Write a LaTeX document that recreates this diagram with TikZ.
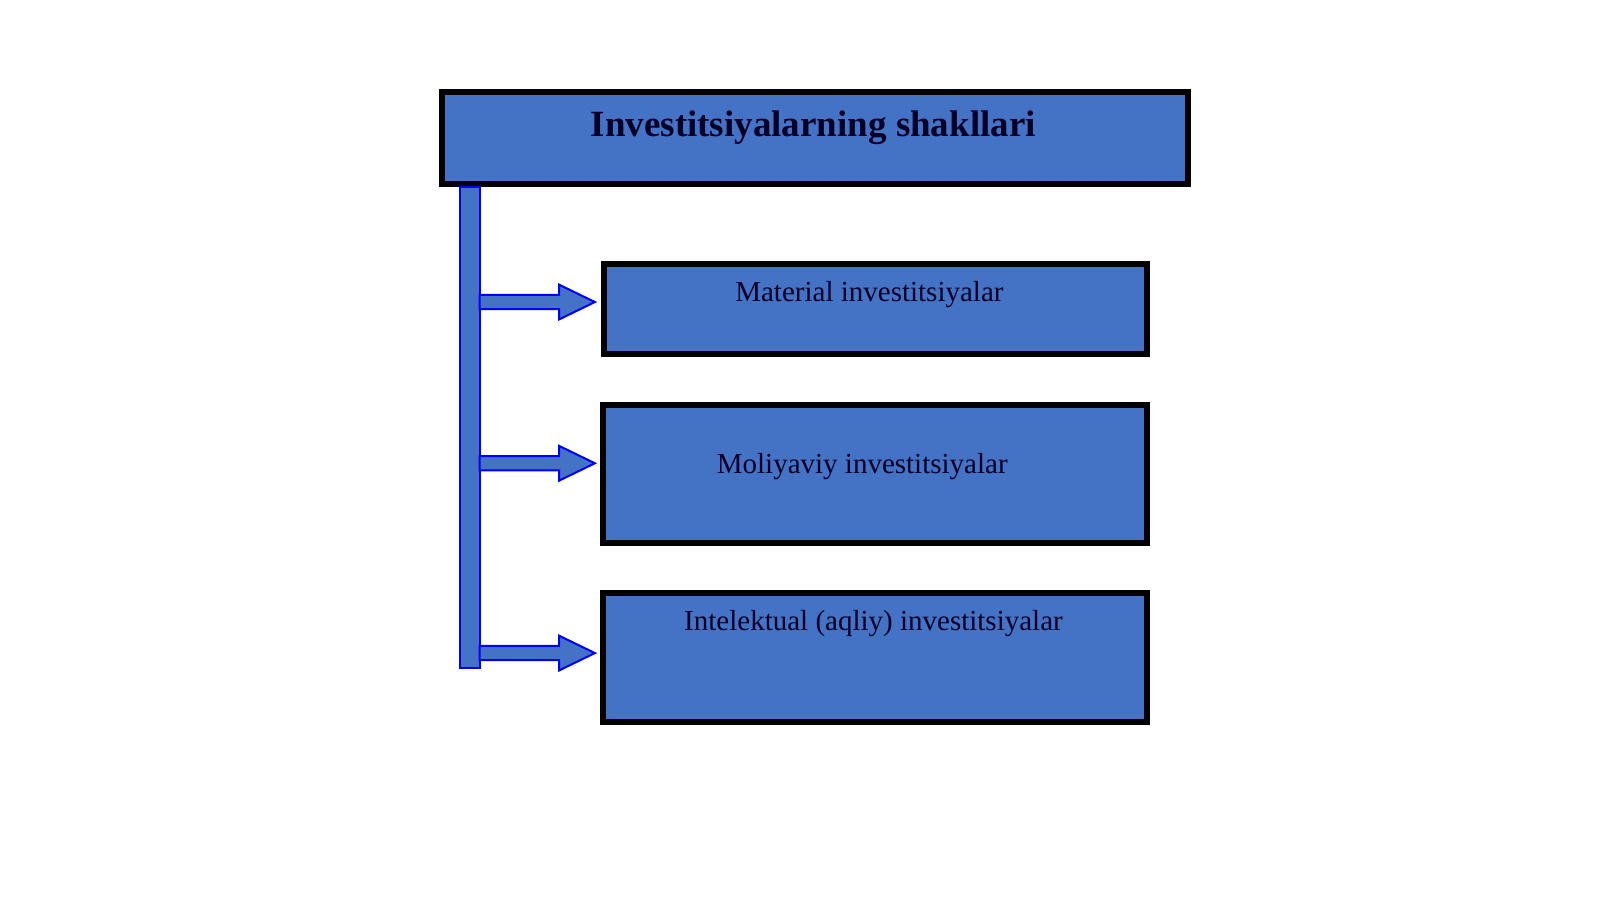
\documentclass[tikz,border=0pt]{standalone}
\usepackage{fontspec}
\setmainfont{Liberation Serif}
\begin{document}
\begin{tikzpicture}[x=1.0204pt,y=-1.0204pt,
 box/.style={draw=black,line width=6pt,fill=fillb},
 txt/.style={font=\fontsize{29}{32}\selectfont,text=black!85!blue},
 arr/.style={draw=blue,line width=2pt,fill=fillb}]
\definecolor{fillb}{HTML}{4472C4}
\useasboundingbox (0,0) rectangle (1568,882);
\fill[white] (0,0) rectangle (1568,882);
\draw[box] (433,90) rectangle (1164,180);
\node[font=\bfseries\fontsize{37}{40}\selectfont,text=black!85!blue] (t) at (797,125) {Investitsiyalarning shakllari};
\draw[box] (592,259) rectangle (1124,347);
\draw[box] (591,397) rectangle (1124,532);
\draw[box] (591,581) rectangle (1124,708);
\node[txt] (a) at (852,289) {Material investitsiyalar};
\node[txt] (b) at (845,457) {Moliyaviy investitsiyalar};
\node[txt] (c) at (856,611) {Intelektual (aqliy) investitsiyalar};
\draw[arr] (451,183) rectangle (470,655);
\foreach \y in {296,454,640}{
\draw[arr] (470,\y-7) -- (548,\y-7) -- (548,\y-17) -- (583,\y) -- (548,\y+17) -- (548,\y+7) -- (470,\y+7) -- cycle;}
\end{tikzpicture}
\end{document}
